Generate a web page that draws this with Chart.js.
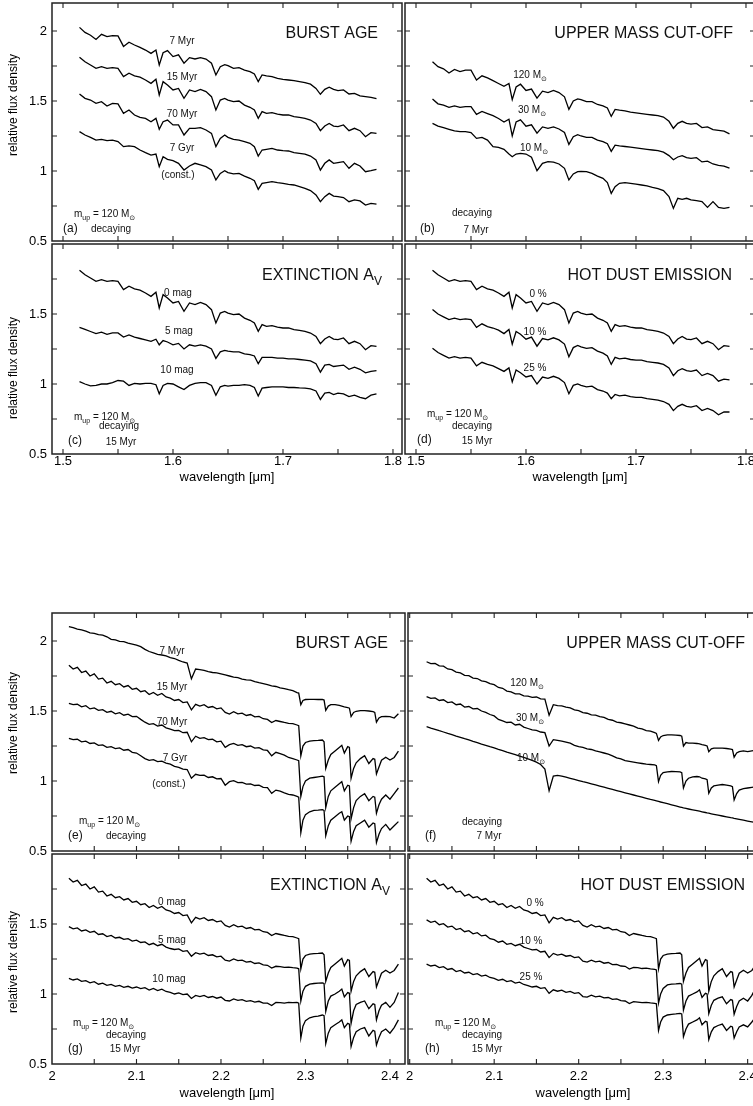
<!DOCTYPE html>
<html>
<head>
<meta charset="utf-8">
<title>Starburst model spectra, H and K band</title>
<script src="https://cdn.jsdelivr.net/npm/chart.js@4.4.0/dist/chart.umd.min.js"></script>
<style>
  html, body { margin: 0; padding: 0; background: #fff; overflow: hidden; width: 753px; height: 1106px; }
  canvas { position: absolute; }
</style>
</head>
<body>
<canvas id="pa"></canvas>
<canvas id="pc"></canvas>
<canvas id="pb"></canvas>
<canvas id="pd"></canvas>
<canvas id="pe"></canvas>
<canvas id="pg"></canvas>
<canvas id="pf"></canvas>
<canvas id="ph"></canvas>
<script>
// wavelength samples [micron], H band (top figure) and K band (bottom figure)
const hGrid = [
  1.515, 1.520, 1.525, 1.530, 1.535, 1.540, 1.545, 1.550, 1.555, 1.560, 1.565,
  1.570, 1.575, 1.580, 1.5845, 1.5875, 1.591, 1.595, 1.600, 1.605, 1.610, 1.615,
  1.620, 1.625, 1.630, 1.635, 1.639, 1.643, 1.647, 1.650, 1.655, 1.660, 1.665,
  1.670, 1.674, 1.6775, 1.681, 1.685, 1.690, 1.695, 1.700, 1.705, 1.710, 1.715,
  1.720, 1.725, 1.730, 1.734, 1.738, 1.742, 1.746, 1.750, 1.755, 1.760, 1.765,
  1.770, 1.775, 1.780, 1.785
];
const kGrid = [
  2.020, 2.025, 2.030, 2.035, 2.040, 2.045, 2.050, 2.055, 2.060, 2.065, 2.070,
  2.075, 2.080, 2.085, 2.090, 2.095, 2.100, 2.105, 2.110, 2.115, 2.120, 2.125,
  2.130, 2.135, 2.140, 2.145, 2.150, 2.155, 2.160, 2.165, 2.170, 2.175, 2.180,
  2.185, 2.190, 2.195, 2.200, 2.205, 2.210, 2.215, 2.220, 2.225, 2.230, 2.235,
  2.240, 2.245, 2.250, 2.255, 2.260, 2.265, 2.270, 2.275, 2.280, 2.285, 2.290,
  2.292, 2.2945, 2.297, 2.300, 2.305, 2.310, 2.315, 2.320, 2.322, 2.324, 2.327,
  2.330, 2.335, 2.340, 2.343, 2.346, 2.350, 2.352, 2.354, 2.357, 2.360, 2.365,
  2.370, 2.375, 2.380, 2.382, 2.384, 2.387, 2.390, 2.395, 2.400, 2.405, 2.410
];

// ---- H band: relative flux density (as plotted, offsets included) ----
// (a) burst age
const hAge7Myr = [
  2.026, 1.99, 1.97, 1.94, 1.976, 1.96, 1.967, 1.965, 1.89, 1.92, 1.90,
  1.883, 1.864, 1.84, 1.864, 1.757, 1.845, 1.86, 1.817, 1.83, 1.77, 1.81,
  1.80, 1.81, 1.80, 1.77, 1.686, 1.745, 1.76, 1.752, 1.733, 1.738, 1.72,
  1.71, 1.693, 1.638, 1.686, 1.68, 1.674, 1.662, 1.655, 1.65, 1.645, 1.638,
  1.631, 1.62, 1.59, 1.548, 1.583, 1.598, 1.583, 1.574, 1.579, 1.55, 1.555,
  1.536, 1.531, 1.526, 1.517
];
const hAge15Myr = [
  1.812, 1.78, 1.757, 1.733, 1.745, 1.733, 1.738, 1.733, 1.674, 1.698, 1.68,
  1.67, 1.65, 1.626, 1.655, 1.543, 1.638, 1.614, 1.579, 1.59, 1.519, 1.579,
  1.567, 1.583, 1.567, 1.531, 1.436, 1.507, 1.519, 1.507, 1.495, 1.50, 1.471,
  1.455, 1.436, 1.376, 1.424, 1.412, 1.417, 1.407, 1.40, 1.40, 1.388, 1.383,
  1.376, 1.364, 1.34, 1.288, 1.321, 1.34, 1.321, 1.317, 1.329, 1.288, 1.305,
  1.288, 1.245, 1.274, 1.269
];
const hAge70Myr = [
  1.55, 1.519, 1.507, 1.483, 1.495, 1.464, 1.483, 1.479, 1.412, 1.436, 1.40,
  1.383, 1.376, 1.352, 1.376, 1.298, 1.352, 1.364, 1.329, 1.329, 1.257, 1.305,
  1.305, 1.31, 1.293, 1.269, 1.174, 1.233, 1.257, 1.24, 1.226, 1.221, 1.21,
  1.198, 1.174, 1.107, 1.15, 1.155, 1.162, 1.15, 1.145, 1.143, 1.131, 1.126,
  1.121, 1.107, 1.079, 1.007, 1.055, 1.079, 1.055, 1.06, 1.067, 1.019, 1.055,
  1.036, 0.995, 1.002, 1.012
];
const hAge7Gyr = [
  1.281, 1.257, 1.24, 1.221, 1.226, 1.217, 1.221, 1.21, 1.174, 1.179, 1.174,
  1.15, 1.131, 1.114, 1.121, 1.031, 1.102, 1.083, 1.074, 1.055, 1.007, 1.036,
  1.055, 1.043, 1.031, 1.007, 0.936, 0.983, 1.002, 0.988, 0.979, 0.983, 0.964,
  0.948, 0.931, 0.869, 0.912, 0.917, 0.924, 0.917, 0.912, 0.905, 0.90, 0.888,
  0.876, 0.86, 0.829, 0.781, 0.817, 0.84, 0.821, 0.817, 0.81, 0.781, 0.793,
  0.786, 0.757, 0.769, 0.764
];
// (b) upper mass cut-off
const hMass120 = [
  1.781, 1.745, 1.73, 1.70, 1.725, 1.71, 1.72, 1.72, 1.65, 1.68, 1.665,
  1.645, 1.625, 1.605, 1.625, 1.51, 1.60, 1.62, 1.575, 1.585, 1.52, 1.57,
  1.56, 1.575, 1.56, 1.53, 1.44, 1.50, 1.515, 1.51, 1.495, 1.495, 1.475,
  1.465, 1.45, 1.39, 1.44, 1.435, 1.43, 1.42, 1.415, 1.41, 1.405, 1.40,
  1.395, 1.385, 1.355, 1.305, 1.34, 1.355, 1.34, 1.335, 1.34, 1.31, 1.315,
  1.295, 1.29, 1.285, 1.265
];
const hMass30 = [
  1.514, 1.48, 1.47, 1.455, 1.465, 1.455, 1.46, 1.46, 1.405, 1.425, 1.41,
  1.395, 1.375, 1.35, 1.37, 1.25, 1.35, 1.365, 1.32, 1.33, 1.27, 1.315,
  1.305, 1.315, 1.30, 1.275, 1.19, 1.245, 1.26, 1.25, 1.24, 1.24, 1.22,
  1.21, 1.195, 1.14, 1.185, 1.18, 1.175, 1.17, 1.165, 1.16, 1.155, 1.15,
  1.145, 1.135, 1.11, 1.08, 1.10, 1.11, 1.095, 1.09, 1.095, 1.065, 1.07,
  1.05, 1.04, 1.035, 1.02
];
const hMass10 = [
  1.34, 1.321, 1.31, 1.298, 1.286, 1.281, 1.281, 1.274, 1.233, 1.24, 1.221,
  1.174, 1.169, 1.155, 1.121, 1.102, 1.121, 1.126, 1.121, 1.098, 1.002, 1.055,
  1.067, 1.064, 1.05, 1.019, 0.936, 0.979, 0.995, 0.998, 0.995, 0.983, 0.964,
  0.948, 0.917, 0.84, 0.888, 0.912, 0.917, 0.912, 0.907, 0.90, 0.893, 0.883,
  0.874, 0.86, 0.817, 0.733, 0.805, 0.798, 0.805, 0.793, 0.788, 0.781, 0.74,
  0.781, 0.74, 0.733, 0.74
];
// (c) extinction (0 mag is the 15 Myr spectrum)
const hExt5 = [
  1.405, 1.39, 1.375, 1.36, 1.37, 1.355, 1.365, 1.365, 1.335, 1.35, 1.335,
  1.325, 1.315, 1.305, 1.32, 1.28, 1.31, 1.30, 1.28, 1.29, 1.25, 1.28,
  1.27, 1.28, 1.27, 1.25, 1.183, 1.23, 1.24, 1.235, 1.23, 1.23, 1.215,
  1.21, 1.20, 1.145, 1.19, 1.19, 1.19, 1.185, 1.185, 1.18, 1.18, 1.175,
  1.17, 1.165, 1.145, 1.085, 1.135, 1.14, 1.125, 1.13, 1.135, 1.105, 1.12,
  1.105, 1.08, 1.09, 1.095
];
const hExt10 = [
  1.017, 1.00, 0.986, 0.99, 1.00, 1.00, 1.01, 1.025, 1.02, 0.99, 1.005,
  1.00, 1.005, 1.005, 0.995, 0.93, 0.99, 1.005, 1.00, 0.98, 0.96, 0.99,
  1.005, 1.01, 1.01, 0.99, 0.92, 0.98, 0.99, 0.985, 0.99, 0.99, 0.995,
  0.99, 0.975, 0.914, 0.97, 0.975, 0.98, 0.98, 0.98, 0.975, 0.975, 0.972,
  0.97, 0.965, 0.95, 0.89, 0.935, 0.94, 0.925, 0.935, 0.93, 0.91, 0.92,
  0.905, 0.895, 0.92, 0.93
];
// (d) hot dust emission (0 % is the 15 Myr spectrum)
const hDust10 = [
  1.533, 1.50, 1.48, 1.46, 1.47, 1.46, 1.465, 1.46, 1.405, 1.43, 1.41,
  1.40, 1.385, 1.36, 1.39, 1.285, 1.375, 1.355, 1.32, 1.335, 1.27, 1.325,
  1.315, 1.33, 1.315, 1.285, 1.195, 1.26, 1.275, 1.265, 1.255, 1.26, 1.235,
  1.22, 1.20, 1.14, 1.19, 1.18, 1.185, 1.175, 1.17, 1.17, 1.16, 1.155,
  1.15, 1.14, 1.115, 1.06, 1.095, 1.11, 1.095, 1.09, 1.10, 1.06, 1.075,
  1.06, 1.02, 1.035, 1.03
];
const hDust25 = [
  1.255, 1.225, 1.205, 1.185, 1.195, 1.185, 1.19, 1.185, 1.13, 1.155, 1.14,
  1.13, 1.11, 1.09, 1.115, 1.015, 1.10, 1.08, 1.05, 1.06, 1.00, 1.05,
  1.04, 1.055, 1.04, 1.01, 0.93, 0.99, 1.00, 0.99, 0.98, 0.985, 0.96,
  0.95, 0.935, 0.895, 0.925, 0.915, 0.92, 0.91, 0.905, 0.905, 0.895, 0.89,
  0.885, 0.875, 0.855, 0.81, 0.84, 0.855, 0.84, 0.835, 0.845, 0.81, 0.825,
  0.81, 0.78, 0.80, 0.80
];

// ---- K band ----
// (e) burst age
const kAge7Myr = [
  2.102, 2.095, 2.085, 2.08, 2.07, 2.058, 2.055, 2.045, 2.042, 2.03, 2.012,
  2.008, 1.998, 1.995, 1.985, 1.978, 1.97, 1.96, 1.94, 1.925, 1.915, 1.905,
  1.90, 1.893, 1.882, 1.875, 1.862, 1.85, 1.842, 1.73, 1.80, 1.795, 1.79,
  1.782, 1.775, 1.772, 1.765, 1.758, 1.75, 1.742, 1.738, 1.728, 1.722, 1.72,
  1.71, 1.702, 1.695, 1.688, 1.68, 1.675, 1.665, 1.66, 1.652, 1.645, 1.632,
  1.628, 1.545, 1.575, 1.582, 1.583, 1.583, 1.582, 1.583, 1.578, 1.505, 1.535,
  1.545, 1.545, 1.54, 1.535, 1.53, 1.525, 1.52, 1.46, 1.49, 1.498, 1.502,
  1.502, 1.50, 1.495, 1.49, 1.42, 1.45, 1.46, 1.462, 1.46, 1.45, 1.48
];
const kAge15Myr = [
  1.826, 1.80, 1.812, 1.775, 1.785, 1.75, 1.765, 1.728, 1.735, 1.70, 1.712,
  1.688, 1.695, 1.672, 1.682, 1.655, 1.662, 1.638, 1.645, 1.618, 1.632, 1.612,
  1.625, 1.60, 1.592, 1.575, 1.582, 1.56, 1.565, 1.508, 1.548, 1.535, 1.545,
  1.525, 1.532, 1.515, 1.522, 1.49, 1.478, 1.495, 1.48, 1.485, 1.468, 1.475,
  1.458, 1.462, 1.445, 1.44, 1.418, 1.432, 1.425, 1.418, 1.412, 1.41, 1.40,
  1.395, 1.18, 1.25, 1.275, 1.285, 1.288, 1.29, 1.293, 1.28, 1.09, 1.15,
  1.19, 1.215, 1.24, 1.255, 1.20, 1.245, 1.24, 1.02, 1.09, 1.13, 1.16,
  1.18, 1.125, 1.16, 1.155, 1.05, 1.10, 1.148, 1.17, 1.15, 1.168, 1.214
];
const kAge70Myr = [
  1.555, 1.545, 1.548, 1.53, 1.538, 1.515, 1.522, 1.505, 1.51, 1.49, 1.498,
  1.48, 1.488, 1.47, 1.478, 1.46, 1.462, 1.44, 1.42, 1.405, 1.41, 1.392,
  1.40, 1.38, 1.37, 1.36, 1.362, 1.345, 1.348, 1.28, 1.32, 1.305, 1.31,
  1.295, 1.298, 1.28, 1.285, 1.24, 1.26, 1.268, 1.255, 1.26, 1.245, 1.25,
  1.235, 1.238, 1.222, 1.218, 1.18, 1.205, 1.195, 1.185, 1.168, 1.16, 1.15,
  1.145, 0.89, 0.96, 1.00, 1.02, 1.025, 1.03, 1.035, 1.03, 0.81, 0.89,
  0.93, 0.955, 0.98, 0.995, 0.93, 0.97, 0.965, 0.73, 0.81, 0.86, 0.89,
  0.91, 0.86, 0.89, 0.885, 0.77, 0.83, 0.87, 0.90, 0.87, 0.91, 0.95
];
const kAge7Gyr = [
  1.305, 1.295, 1.298, 1.28, 1.285, 1.268, 1.272, 1.255, 1.258, 1.24, 1.245,
  1.232, 1.236, 1.22, 1.225, 1.205, 1.20, 1.18, 1.16, 1.148, 1.152, 1.138,
  1.142, 1.128, 1.12, 1.105, 1.098, 1.085, 1.082, 1.02, 1.048, 1.04, 1.042,
  1.025, 1.03, 1.015, 1.018, 0.97, 0.995, 1.002, 0.988, 0.99, 0.978, 0.98,
  0.968, 0.97, 0.955, 0.952, 0.912, 0.935, 0.928, 0.915, 0.905, 0.90, 0.89,
  0.885, 0.63, 0.72, 0.76, 0.78, 0.79, 0.792, 0.795, 0.79, 0.61, 0.68,
  0.72, 0.745, 0.77, 0.78, 0.72, 0.75, 0.745, 0.57, 0.64, 0.68, 0.70,
  0.72, 0.67, 0.70, 0.695, 0.56, 0.62, 0.66, 0.69, 0.65, 0.68, 0.71
];
// (f) upper mass cut-off
const kMass120 = [
  1.852, 1.838, 1.84, 1.822, 1.82, 1.80, 1.795, 1.778, 1.772, 1.755, 1.752,
  1.735, 1.732, 1.715, 1.71, 1.695, 1.688, 1.668, 1.662, 1.642, 1.636, 1.622,
  1.622, 1.608, 1.606, 1.598, 1.60, 1.586, 1.585, 1.47, 1.545, 1.538, 1.536,
  1.528, 1.522, 1.508, 1.502, 1.488, 1.484, 1.472, 1.47, 1.46, 1.454, 1.44,
  1.434, 1.42, 1.416, 1.408, 1.40, 1.392, 1.378, 1.372, 1.36, 1.356, 1.345,
  1.34, 1.29, 1.315, 1.325, 1.33, 1.33, 1.328, 1.325, 1.32, 1.25, 1.275,
  1.27, 1.27, 1.268, 1.265, 1.26, 1.255, 1.25, 1.21, 1.23, 1.235, 1.235,
  1.235, 1.232, 1.228, 1.225, 1.17, 1.20, 1.21, 1.215, 1.21, 1.215, 1.22
];
const kMass30 = [
  1.602, 1.59, 1.594, 1.575, 1.58, 1.56, 1.565, 1.545, 1.55, 1.528, 1.532,
  1.515, 1.518, 1.50, 1.49, 1.475, 1.465, 1.44, 1.43, 1.418, 1.42, 1.40,
  1.405, 1.385, 1.375, 1.365, 1.362, 1.35, 1.345, 1.25, 1.295, 1.29, 1.285,
  1.278, 1.27, 1.255, 1.245, 1.24, 1.23, 1.225, 1.215, 1.208, 1.20, 1.192,
  1.18, 1.165, 1.158, 1.145, 1.14, 1.135, 1.13, 1.125, 1.12, 1.118, 1.115,
  1.11, 0.995, 1.04, 1.06, 1.065, 1.068, 1.067, 1.065, 1.06, 0.95, 1.00,
  1.02, 1.03, 1.032, 1.03, 1.02, 1.015, 1.01, 0.912, 0.95, 0.965, 0.97,
  0.975, 0.97, 0.965, 0.96, 0.865, 0.91, 0.935, 0.945, 0.95, 0.955, 0.96
];
const kMass10 = [
  1.388, 1.378, 1.369, 1.359, 1.35, 1.34, 1.331, 1.321, 1.312, 1.302, 1.293,
  1.283, 1.274, 1.264, 1.255, 1.245, 1.236, 1.226, 1.217, 1.207, 1.198, 1.188,
  1.178, 1.168, 1.158, 1.148, 1.135, 1.118, 1.085, 0.93, 1.035, 1.04, 1.035,
  1.027, 1.019, 1.011, 1.003, 0.995, 0.988, 0.98, 0.972, 0.964, 0.956, 0.948,
  0.94, 0.932, 0.924, 0.916, 0.908, 0.90, 0.892, 0.884, 0.876, 0.868, 0.861,
  0.858, 0.854, 0.85, 0.846, 0.838, 0.83, 0.822, 0.814, 0.811, 0.808, 0.804,
  0.80, 0.794, 0.788, 0.784, 0.78, 0.775, 0.772, 0.77, 0.766, 0.762, 0.756,
  0.75, 0.744, 0.738, 0.736, 0.733, 0.73, 0.726, 0.72, 0.714, 0.708, 0.702
];
// (g) extinction (0 mag is the 15 Myr spectrum)
const kExt5 = [
  1.481, 1.465, 1.472, 1.45, 1.458, 1.44, 1.448, 1.425, 1.43, 1.41, 1.418,
  1.40, 1.405, 1.39, 1.395, 1.378, 1.385, 1.368, 1.372, 1.352, 1.362, 1.345,
  1.355, 1.335, 1.325, 1.318, 1.322, 1.305, 1.31, 1.27, 1.295, 1.285, 1.292,
  1.275, 1.28, 1.265, 1.27, 1.242, 1.235, 1.25, 1.238, 1.242, 1.228, 1.232,
  1.218, 1.222, 1.208, 1.205, 1.185, 1.198, 1.195, 1.19, 1.192, 1.188, 1.185,
  1.18, 0.95, 1.02, 1.055, 1.07, 1.075, 1.078, 1.08, 1.075, 0.875, 0.95,
  0.985, 1.0, 1.02, 1.035, 0.98, 1.01, 1.005, 0.79, 0.88, 0.925, 0.94,
  0.95, 0.895, 0.93, 0.925, 0.815, 0.88, 0.92, 0.94, 0.905, 0.94, 1.01
];
const kExt10 = [
  1.112, 1.10, 1.108, 1.09, 1.095, 1.08, 1.088, 1.07, 1.078, 1.062, 1.068,
  1.055, 1.062, 1.048, 1.055, 1.042, 1.05, 1.038, 1.045, 1.028, 1.04, 1.025,
  1.035, 1.018, 1.012, 1.0, 1.008, 0.995, 1.0, 0.968, 0.99, 0.982, 0.99,
  0.975, 0.982, 0.97, 0.978, 0.955, 0.95, 0.965, 0.955, 0.96, 0.948, 0.952,
  0.942, 0.948, 0.935, 0.935, 0.918, 0.94, 0.938, 0.935, 0.94, 0.938, 0.94,
  0.935, 0.685, 0.77, 0.81, 0.83, 0.838, 0.842, 0.85, 0.845, 0.645, 0.72,
  0.76, 0.78, 0.80, 0.815, 0.76, 0.79, 0.785, 0.625, 0.69, 0.73, 0.75,
  0.76, 0.70, 0.74, 0.735, 0.635, 0.69, 0.73, 0.75, 0.72, 0.76, 0.815
];
// (h) hot dust emission (0 % is the 15 Myr spectrum)
const kDust10 = [
  1.529, 1.512, 1.52, 1.495, 1.502, 1.478, 1.485, 1.46, 1.468, 1.445, 1.452,
  1.43, 1.438, 1.415, 1.42, 1.395, 1.388, 1.37, 1.378, 1.355, 1.362, 1.345,
  1.355, 1.335, 1.325, 1.315, 1.318, 1.30, 1.305, 1.26, 1.29, 1.278, 1.285,
  1.27, 1.275, 1.26, 1.265, 1.235, 1.228, 1.242, 1.23, 1.235, 1.22, 1.225,
  1.21, 1.212, 1.20, 1.198, 1.178, 1.19, 1.188, 1.182, 1.185, 1.18, 1.176,
  1.172, 0.935, 1.0, 1.04, 1.065, 1.07, 1.072, 1.075, 1.07, 0.885, 0.95,
  0.985, 1.0, 1.015, 1.03, 0.975, 1.005, 1.0, 0.86, 0.92, 0.955, 0.97,
  0.98, 0.93, 0.96, 0.955, 0.855, 0.91, 0.95, 0.97, 0.95, 0.99, 1.05
];
const kDust25 = [
  1.214, 1.20, 1.206, 1.188, 1.195, 1.175, 1.182, 1.16, 1.168, 1.15, 1.155,
  1.138, 1.145, 1.128, 1.135, 1.118, 1.112, 1.098, 1.105, 1.088, 1.095, 1.078,
  1.085, 1.068, 1.06, 1.05, 1.055, 1.04, 1.045, 1.005, 1.03, 1.02, 1.028,
  1.012, 1.018, 1.005, 1.01, 0.982, 0.978, 0.992, 0.98, 0.985, 0.972, 0.975,
  0.962, 0.965, 0.952, 0.95, 0.932, 0.945, 0.942, 0.938, 0.94, 0.936, 0.933,
  0.93, 0.74, 0.80, 0.835, 0.85, 0.855, 0.858, 0.862, 0.858, 0.695, 0.75,
  0.785, 0.80, 0.815, 0.83, 0.78, 0.805, 0.80, 0.675, 0.73, 0.76, 0.775,
  0.785, 0.74, 0.77, 0.765, 0.685, 0.73, 0.765, 0.78, 0.765, 0.80, 0.84
];

const FONT = '"Liberation Sans", Arial, "DejaVu Sans", sans-serif';
const MUP = 'm_{up} = 120 M_{⊙}';

// text items: [text, dx, dy, align, size] relative to chart area top-left (dy = baseline)
const panels = [
  { id: 'pa', box: [0, 0, 404, 251], axisW: 52, axisH: 10, padR: 2, x: [1.49, 1.8082], yMax: 2.2,
    grid: hGrid, series: [hAge7Myr, hAge15Myr, hAge70Myr, hAge7Gyr],
    yLabels: true, xLabels: false, xPad: 0, title: ['BURST AGE', 24, 35], yTitle: 102,
    texts: [['7 Myr', 130, 41, 'center'], ['15 Myr', 130, 77, 'center'], ['70 Myr', 130, 114, 'center'],
            ['7 Gyr', 130, 148, 'center'], ['(const.)', 126, 175, 'center'], [MUP, 22, 214, 'left'],
            ['(a)', 11, 229, 'left', 12], ['decaying', 59, 229, 'center']] },
  { id: 'pb', box: [395, 0, 370, 251], axisW: 10, axisH: 10, padR: 10, x: [1.49, 1.8082], yMax: 2.2,
    grid: hGrid, series: [hMass120, hMass30, hMass10],
    yLabels: false, xLabels: false, xPad: 0, title: ['UPPER MASS CUT-OFF', 22, 35],
    texts: [['120 M_{⊙}', 125, 75, 'center'], ['30 M_{⊙}', 127, 110, 'center'], ['10 M_{⊙}', 129, 148, 'center'],
            ['decaying', 67, 213, 'center'], ['(b)', 15, 229, 'left', 12], ['7 Myr', 71, 230, 'center']] },
  { id: 'pc', box: [0, 241, 404, 250], axisW: 52, axisH: 37, padR: 2, x: [1.49, 1.8082], yMax: 2.0,
    grid: hGrid, series: [hAge15Myr, hExt5, hExt10],
    yLabels: true, xLabels: true, xPad: 0, title: ['EXTINCTION A_{V}', 20, 36], yTitle: 124, xTitle: 233,
    texts: [['0 mag', 126, 52, 'center'], ['5 mag', 127, 90, 'center'], ['10 mag', 125, 129, 'center'],
            [MUP, 22, 176, 'left'], ['decaying', 67, 185, 'center'], ['(c)', 16, 200, 'left', 12],
            ['15 Myr', 69, 201, 'center']] },
  { id: 'pd', box: [395, 241, 370, 250], axisW: 10, axisH: 37, padR: 10, x: [1.49, 1.8082], yMax: 2.0,
    grid: hGrid, series: [hAge15Myr, hDust10, hDust25],
    yLabels: false, xLabels: true, xPad: 0, title: ['HOT DUST EMISSION', 23, 36], xTitle: 233,
    texts: [['0 %', 133, 53, 'center'], ['10 %', 130, 91, 'center'], ['25 %', 130, 127, 'center'],
            [MUP, 22, 173, 'left'], ['decaying', 67, 185, 'center'], ['(d)', 12, 199, 'left', 12],
            ['15 Myr', 72, 200, 'center']] },
  { id: 'pe', box: [0, 610, 407, 251], axisW: 52, axisH: 10, padR: 2, x: [2.0, 2.4178], yMax: 2.2,
    grid: kGrid, series: [kAge7Myr, kAge15Myr, kAge70Myr, kAge7Gyr],
    yLabels: true, xLabels: false, xPad: 5, title: ['BURST AGE', 17, 35], yTitle: 110,
    texts: [['7 Myr', 120, 41, 'center'], ['15 Myr', 120, 77, 'center'], ['70 Myr', 120, 112, 'center'],
            ['7 Gyr', 123, 148, 'center'], ['(const.)', 117, 174, 'center'], [MUP, 27, 211, 'left'],
            ['(e)', 16, 226, 'left', 12], ['decaying', 74, 226, 'center']] },
  { id: 'pf', box: [398, 610, 373, 251], axisW: 10, axisH: 10, padR: 10, x: [1.998, 2.4158], yMax: 2.2,
    grid: kGrid, series: [kMass120, kMass30, kMass10],
    yLabels: false, xLabels: false, xPad: 5, title: ['UPPER MASS CUT-OFF', 16, 35],
    texts: [['120 M_{⊙}', 119, 73, 'center'], ['30 M_{⊙}', 122, 108, 'center'], ['10 M_{⊙}', 123, 148, 'center'],
            ['decaying', 74, 212, 'center'], ['(f)', 17, 226, 'left', 12], ['7 Myr', 81, 226, 'center']] },
  { id: 'pg', box: [0, 851, 407, 255], axisW: 52, axisH: 42, padR: 2, x: [2.0, 2.4178], yMax: 2.0,
    grid: kGrid, series: [kAge15Myr, kExt5, kExt10],
    yLabels: true, xLabels: true, xPad: 5, title: ['EXTINCTION A_{V}', 15, 36], yTitle: 108, xTitle: 239,
    texts: [['0 mag', 120, 51, 'center'], ['5 mag', 120, 89, 'center'], ['10 mag', 117, 128, 'center'],
            [MUP, 21, 172, 'left'], ['decaying', 74, 184, 'center'], ['(g)', 16, 198, 'left', 12],
            ['15 Myr', 73, 198, 'center']] },
  { id: 'ph', box: [398, 851, 373, 255], axisW: 10, axisH: 42, padR: 10, x: [1.998, 2.4158], yMax: 2.0,
    grid: kGrid, series: [kAge15Myr, kDust10, kDust25],
    yLabels: false, xLabels: true, xPad: 5, title: ['HOT DUST EMISSION', 16, 36], xTitle: 239,
    texts: [['0 %', 127, 52, 'center'], ['10 %', 123, 90, 'center'], ['25 %', 123, 126, 'center'],
            [MUP, 27, 172, 'left'], ['decaying', 74, 184, 'center'], ['(h)', 17, 198, 'left', 12],
            ['15 Myr', 79, 198, 'center']] }
];

// text with _{...} subscripts
function drawRich(ctx, str, x, y, align, size) {
  const parts = str.split(/(_\{[^}]*\})/).filter(Boolean)
    .map(s => s.startsWith('_{') ? { t: s.slice(2, -1), sub: true } : { t: s, sub: false });
  const fontOf = part => `${part.sub ? Math.round(size * 0.72) : size}px ${FONT}`;
  let w = 0;
  parts.forEach(part => { ctx.font = fontOf(part); part.w = ctx.measureText(part.t).width; w += part.w; });
  let cx = align === 'center' ? x - w / 2 : align === 'right' ? x - w : x;
  ctx.textAlign = 'left';
  ctx.textBaseline = 'alphabetic';
  parts.forEach(part => {
    ctx.font = fontOf(part);
    ctx.fillText(part.t, cx, y + (part.sub ? size * 0.3 : 0));
    cx += part.w;
  });
}

// box with inward tick marks on all four sides, then the panel texts
function panelPlugin(p) {
  return {
    id: 'panel',
    afterDraw(chart) {
      const { ctx, chartArea: a, scales: { x, y } } = chart;
      ctx.save();
      ctx.strokeStyle = '#222';
      ctx.lineWidth = 1.5;
      ctx.strokeRect(a.left, a.top, a.right - a.left, a.bottom - a.top);
      ctx.lineWidth = 1.1;
      ctx.beginPath();
      x.ticks.forEach(t => {
        const px = x.getPixelForValue(t.value);
        if (px <= a.left + 1 || px >= a.right - 1) return;
        ctx.moveTo(px, a.bottom); ctx.lineTo(px, a.bottom - 5);
        ctx.moveTo(px, a.top); ctx.lineTo(px, a.top + 5);
      });
      y.ticks.forEach(t => {
        const py = y.getPixelForValue(t.value);
        if (py <= a.top + 1 || py >= a.bottom - 1) return;
        ctx.moveTo(a.left, py); ctx.lineTo(a.left + 5, py);
        ctx.moveTo(a.right, py); ctx.lineTo(a.right - 5, py);
      });
      ctx.stroke();

      ctx.fillStyle = '#111';
      const [title, fromRight, base] = p.title;
      drawRich(ctx, title, a.right - fromRight, a.top + base, 'right', 16);
      p.texts.forEach(([t, dx, dy, align, size]) => drawRich(ctx, t, a.left + dx, a.top + dy, align, size || 10));

      ctx.fillStyle = '#000';
      if (p.yTitle) {
        ctx.save();
        ctx.translate(14, a.top + p.yTitle);
        ctx.rotate(-Math.PI / 2);
        ctx.font = `12px ${FONT}`;
        ctx.textAlign = 'center';
        ctx.textBaseline = 'middle';
        ctx.fillText('relative flux density', 0, 0);
        ctx.restore();
      }
      if (p.xTitle) {
        ctx.font = `13px ${FONT}`;
        ctx.textAlign = 'center';
        ctx.textBaseline = 'middle';
        ctx.fillText('wavelength [μm]', a.left + 175, a.top + p.xTitle);
      }
      ctx.restore();
    }
  };
}

const zeroPad = s => { s.paddingLeft = 0; s.paddingRight = 0; s.paddingTop = 0; s.paddingBottom = 0; };

panels.forEach(p => {
  const cv = document.getElementById(p.id);
  const [l, t, w, h] = p.box;
  cv.width = w; cv.height = h;
  cv.style.left = l + 'px'; cv.style.top = t + 'px';
  cv.style.width = w + 'px'; cv.style.height = h + 'px';

  new Chart(cv, {
    type: 'line',
    data: {
      datasets: p.series.map(s => ({
        data: p.grid.map((xv, i) => ({ x: xv, y: s[i] })),
        borderColor: '#000',
        borderWidth: 1.3,
        pointRadius: 0,
        fill: false,
        tension: 0
      }))
    },
    options: {
      responsive: false,
      animation: false,
      devicePixelRatio: 1,
      events: [],
      layout: { padding: { left: 0, top: 3, right: p.padR, bottom: 0 } },
      plugins: { legend: { display: false }, tooltip: { enabled: false } },
      scales: {
        x: {
          type: 'linear', min: p.x[0], max: p.x[1],
          grid: { display: false, drawTicks: false }, border: { display: false },
          ticks: {
            stepSize: 0.05, autoSkip: false, maxRotation: 0, includeBounds: false,
            padding: p.xPad, color: '#000', font: { family: FONT, size: 13 },
            callback: v => (p.xLabels && Math.abs(v * 10 - Math.round(v * 10)) < 1e-6) ? String(Math.round(v * 10) / 10) : ''
          },
          afterFit: s => { s.height = p.axisH; zeroPad(s); }
        },
        y: {
          min: 0.5, max: p.yMax,
          grid: { display: false, drawTicks: false }, border: { display: false },
          ticks: {
            stepSize: 0.25, autoSkip: false, includeBounds: false,
            padding: 5, color: '#000', font: { family: FONT, size: 13 },
            callback: v => (p.yLabels && Math.abs(v * 2 - Math.round(v * 2)) < 1e-6 && v < p.yMax - 1e-6) ? String(Math.round(v * 2) / 2) : ''
          },
          afterFit: s => { s.width = p.axisW; zeroPad(s); }
        }
      }
    },
    plugins: [panelPlugin(p)]
  });
});
</script>
</body>
</html>
